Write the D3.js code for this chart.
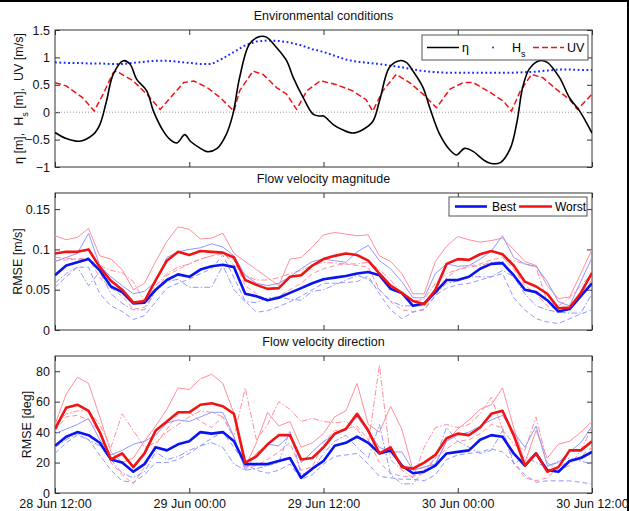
<!DOCTYPE html>
<html>
<head>
<meta charset="utf-8">
<script src="https://cdn.jsdelivr.net/npm/d3@7"></script>
<style>
body { margin: 0; background: #fff; }
text { font-family: "Liberation Sans", Arial, sans-serif; }
</style>
</head>
<body>
<div id="chart"></div>
<script>
// time axis: hours after 28 Jun 12:00
var xTicks = [0, 12, 24, 36, 48];
var xTickLabels = ["28 Jun 12:00", "29 Jun 00:00", "29 Jun 12:00", "30 Jun 00:00", "30 Jun 12:00"];
var hours = d3.range(0, 49);

// ---- environmental conditions ----
var etaHours = [0,1,2.2,3.4,4.0,4.6,5.2,6.1,6.7,7.3,8.2,8.8,9.7,10.3,10.9,11.6,12.1,13.0,13.6,14.5,15.3,15.9,16.5,17.4,18.3,18.9,19.8,20.7,21.3,22.2,23.1,23.7,24.0,24.9,25.7,26.6,27.5,28.4,29.0,29.9,30.8,31.4,32.0,32.9,33.5,34.4,35.3,35.9,36.6,37.4,38.3,38.9,39.8,40.7,41.3,41.8,42.4,43.3,44.0,45.1,46.0,46.9,48];
var eta = [-0.37,-0.48,-0.53,-0.41,-0.23,0.2,0.69,0.94,0.88,0.6,0.39,0.02,-0.35,-0.5,-0.56,-0.41,-0.53,-0.66,-0.72,-0.66,-0.41,-0.04,0.63,1.25,1.38,1.37,1.18,0.94,0.63,0.26,-0.04,-0.07,-0.07,-0.23,-0.32,-0.38,-0.32,-0.17,0.2,0.82,0.94,0.91,0.75,0.45,0.08,-0.41,-0.69,-0.78,-0.66,-0.72,-0.87,-0.93,-0.92,-0.66,-0.17,0.45,0.79,0.94,0.91,0.63,0.26,0.02,-0.38];
var hs = [0.91,0.9,0.9,0.89,0.89,0.88,0.88,0.9,0.92,0.94,0.94,0.92,0.9,0.88,0.88,0.98,1.1,1.22,1.29,1.31,1.3,1.27,1.22,1.15,1.1,1.03,0.96,0.92,0.9,0.88,0.85,0.82,0.78,0.75,0.73,0.72,0.72,0.72,0.72,0.72,0.72,0.72,0.73,0.74,0.76,0.78,0.78,0.77,0.77];
var uvHours = [0,1,2.5,3.5,4.3,5.2,5.5,7.0,8.2,9.4,10.6,11.5,12.4,13.6,14.8,16.0,16.5,17.7,18.6,19.8,20.7,21.6,22.5,23.7,24.0,25.2,26.6,27.8,28.4,29.3,30.5,31.7,32.9,34.1,35.3,36.5,37.4,38.9,40.1,40.8,41.6,42.6,43.6,44.8,46.0,46.7,48];
var uv = [0.54,0.48,0.26,0.02,0.33,0.72,0.75,0.57,0.33,0.05,0.33,0.54,0.57,0.45,0.26,0.02,0.39,0.75,0.69,0.45,0.33,0.05,0.39,0.57,0.56,0.5,0.39,0.23,0.02,0.39,0.69,0.54,0.33,0.08,0.42,0.54,0.54,0.36,0.2,0.02,0.39,0.69,0.63,0.42,0.23,0.05,0.33];

// ---- flow velocity magnitude RMSE [m/s], hourly ----
var magBest = [0.068,0.08,0.084,0.088,0.074,0.054,0.047,0.033,0.034,0.05,0.062,0.069,0.066,0.075,0.079,0.081,0.078,0.045,0.042,0.037,0.04,0.046,0.052,0.058,0.063,0.065,0.067,0.07,0.072,0.068,0.051,0.046,0.03,0.033,0.047,0.062,0.062,0.066,0.076,0.082,0.083,0.068,0.05,0.047,0.037,0.023,0.026,0.042,0.058];
var magWorst = [0.095,0.097,0.097,0.1,0.078,0.061,0.05,0.034,0.036,0.062,0.086,0.097,0.093,0.098,0.097,0.096,0.09,0.062,0.056,0.051,0.052,0.066,0.068,0.08,0.088,0.092,0.095,0.093,0.086,0.07,0.055,0.046,0.036,0.032,0.05,0.082,0.088,0.087,0.094,0.098,0.094,0.08,0.06,0.054,0.045,0.027,0.028,0.046,0.071];
var magRedSolid = [0.117,0.112,0.115,0.126,0.092,0.088,0.075,0.05,0.058,0.085,0.11,0.128,0.125,0.113,0.114,0.12,0.095,0.085,0.075,0.065,0.055,0.088,0.09,0.103,0.118,0.121,0.119,0.117,0.118,0.092,0.085,0.07,0.045,0.045,0.085,0.104,0.116,0.112,0.109,0.111,0.114,0.1,0.085,0.08,0.055,0.039,0.041,0.07,0.1];
var magRedDash = [0.086,0.087,0.088,0.09,0.065,0.052,0.042,0.026,0.028,0.05,0.068,0.075,0.082,0.088,0.092,0.094,0.087,0.055,0.045,0.037,0.042,0.05,0.058,0.07,0.076,0.08,0.082,0.08,0.078,0.05,0.035,0.025,0.023,0.025,0.042,0.065,0.075,0.079,0.082,0.087,0.09,0.075,0.055,0.045,0.03,0.026,0.028,0.045,0.062];
var magRedDashDot = [0.09,0.089,0.088,0.087,0.08,0.074,0.071,0.06,0.035,0.055,0.07,0.078,0.082,0.088,0.092,0.097,0.08,0.068,0.062,0.062,0.065,0.07,0.074,0.08,0.084,0.083,0.082,0.082,0.084,0.075,0.062,0.045,0.036,0.038,0.058,0.07,0.075,0.078,0.08,0.084,0.085,0.086,0.082,0.078,0.035,0.03,0.04,0.055,0.07];
var magBlueSolid = [0.085,0.09,0.095,0.12,0.08,0.066,0.055,0.045,0.048,0.06,0.09,0.097,0.1,0.102,0.107,0.103,0.092,0.068,0.058,0.055,0.058,0.066,0.076,0.085,0.088,0.086,0.084,0.097,0.105,0.086,0.076,0.06,0.04,0.04,0.07,0.082,0.079,0.08,0.088,0.098,0.117,0.09,0.082,0.079,0.06,0.035,0.03,0.06,0.09];
var magBlueDash = [0.053,0.066,0.078,0.078,0.045,0.03,0.023,0.013,0.018,0.035,0.052,0.058,0.063,0.07,0.076,0.093,0.065,0.036,0.022,0.024,0.029,0.035,0.042,0.05,0.058,0.058,0.059,0.06,0.067,0.045,0.025,0.014,0.022,0.026,0.043,0.052,0.056,0.058,0.062,0.066,0.07,0.04,0.025,0.014,0.01,0.008,0.014,0.02,0.025];
var magBlueDashDot = [0.058,0.07,0.078,0.055,0.072,0.045,0.033,0.025,0.025,0.048,0.06,0.063,0.053,0.053,0.053,0.08,0.05,0.035,0.034,0.04,0.041,0.038,0.037,0.048,0.05,0.056,0.062,0.068,0.063,0.05,0.036,0.03,0.03,0.03,0.045,0.058,0.061,0.066,0.066,0.066,0.074,0.066,0.045,0.03,0.025,0.022,0.021,0.021,0.045];

// ---- flow velocity direction RMSE [deg], hourly ----
var dirBest = [31,37,40,38,33,22,20,14,19,30,28,32,34,40,39,40,34,19,19,19,21,23,10,16,21,31,33,37,33,26,28,18,13,14,18,26,27,28,35,38,37,26,18,26,15,14,21,23,27];
var dirWorst = [42,56,58,54,40,22,26,17,26,41,47,53,53,58,59,57,52,20,24,32,38,38,22,23,30,39,42,52,41,26,30,17,16,20,25,36,39,38,43,52,54,38,18,26,14,17,28,28,34];
var dirRedSolid = [45,65,76,72,50,27,20,23,34,44,55,69,68,75,78,72,52,17,33,53,44,47,30,33,39,50,54,72,45,40,57,42,15,17,19,34,42,48,55,58,69,43,20,41,23,32,34,40,47];
var dirRedDash = [41,50,51,48,40,20,12,6,17,32,42,52,53,47,43,50,36,17,18,22,27,33,15,17,33,41,42,44,35,20,13,11,11,13,23,29,34,35,39,45,43,20,10,8,10,17,21,24,30];
var dirRedDashDot = [45,52,54,54,45,30,52,41,30,33,40,45,50,54,53,50,37,69,35,45,60,55,47,49,47,46,47,42,32,84,22,15,10,30,43,45,43,45,52,63,42,32,28,50,20,15,18,28,43];
var dirBlueSolid = [39,42,45,49,35,25,28,32,34,38,46,48,47,50,53,53,37,15,26,32,31,38,20,27,34,38,42,50,40,30,27,27,15,17,19,34,38,40,44,48,51,40,30,44,18,20,27,33,44];
var dirBlueDash = [26,33,38,35,25,15,8,7,12,20,20,22,26,31,36,40,30,19,15,13,15,19,9,12,19,24,25,26,19,11,10,9,9,8,12,22,25,26,27,29,27,20,12,7,8,8,8,7,6];
var dirBlueDashDot = [30,35,39,35,31,22,13,10,14,27,22,24,28,31,33,30,19,15,16,18,20,41,12,15,26,34,38,30,23,45,12,6,6,15,23,43,34,30,26,28,41,19,24,20,17,21,23,21,19];

// colours and line styles
var paleRed = "#ff8f9c", paleBlue = "#9198ff";
var bestColor = "#0a14f0", worstColor = "#f01414";
var dashSolid = null, dashDashed = "5,3", dashDashDot = "6,2,1.5,2";

var W = 629, H = 511;
var left = 55, right = 592, panelH = 137;
var panelTops = [30, 193, 356];

var svg = d3.select("#chart").append("svg")
    .attr("width", W).attr("height", H);

// dark frame at the top and right edge of the screenshot
svg.append("rect").attr("x", 0).attr("y", 0).attr("width", W).attr("height", 2).attr("fill", "#000");
svg.append("rect").attr("x", W - 2).attr("y", 0).attr("width", 2).attr("height", H).attr("fill", "#000");

var x = d3.scaleLinear().domain([0, 48]).range([left, right]);

/**
 * Build one axes box with inside ticks on all four sides.
 */
function addPanel(top, yDomain, yTicks, yFormat, title, showXLabels) {
    var bottom = top + panelH;
    var y = d3.scaleLinear().domain(yDomain).range([bottom, top]);
    var g = svg.append("g");

    var bx = g.append("g")
        .attr("transform", "translate(0," + bottom + ")")
        .call(d3.axisBottom(x).tickValues(xTicks).tickSize(-5).tickPadding(6)
            .tickFormat(function(d, i) { return showXLabels ? xTickLabels[i] : ""; }));
    var tx = g.append("g")
        .attr("transform", "translate(0," + top + ")")
        .call(d3.axisTop(x).tickValues(xTicks).tickSize(-5).tickFormat(""));
    var ly = g.append("g")
        .attr("transform", "translate(" + left + ",0)")
        .call(d3.axisLeft(y).tickValues(yTicks).tickSize(-5).tickPadding(5).tickFormat(yFormat));
    var ry = g.append("g")
        .attr("transform", "translate(" + right + ",0)")
        .call(d3.axisRight(y).tickValues(yTicks).tickSize(-5).tickFormat(""));

    [bx, tx, ly, ry].forEach(function(a) {
        a.select(".domain").remove();
        a.selectAll(".tick line").attr("stroke", "#333");
        a.selectAll("text").attr("font-size", 12.5).attr("fill", "#111")
            .attr("font-family", "Liberation Sans, Arial, sans-serif");
    });

    g.append("rect")
        .attr("x", left).attr("y", top)
        .attr("width", right - left).attr("height", panelH)
        .attr("fill", "none").attr("stroke", "#333").attr("stroke-width", 1);

    g.append("text")
        .attr("x", (left + right) / 2).attr("y", top - 10)
        .attr("text-anchor", "middle").attr("font-size", 12.5).attr("fill", "#111")
        .text(title);

    var clipId = "clip" + top;
    svg.append("clipPath").attr("id", clipId)
        .append("rect").attr("x", left).attr("y", top).attr("width", right - left).attr("height", panelH);
    var plot = svg.append("g").attr("clip-path", "url(#" + clipId + ")");

    return {y: y, plot: plot, top: top, bottom: bottom};
}

function drawLine(panel, xs, ys, color, width, dash, curve) {
    var line = d3.line()
        .x(function(d, i) { return x(xs[i]); })
        .y(function(d) { return panel.y(d); })
        .curve(curve || d3.curveLinear);
    panel.plot.append("path")
        .datum(ys)
        .attr("fill", "none")
        .attr("stroke", color)
        .attr("stroke-width", width)
        .attr("stroke-dasharray", dash)
        .attr("stroke-linejoin", "round")
        .attr("d", line);
}

function yLabel(xPos, top, parts) {
    var t = svg.append("text")
        .attr("transform", "translate(" + xPos + "," + (top + panelH / 2) + ") rotate(-90)")
        .attr("text-anchor", "middle").attr("font-size", 12.5).attr("fill", "#111")
        .style("white-space", "pre");
    parts.forEach(function(p) {
        var s = t.append("tspan").text(p.t);
        if (p.sub) s.attr("baseline-shift", "sub").attr("font-size", 9);
    });
}

// ---- panel 1 ----
var p1 = addPanel(panelTops[0], [-1, 1.5], [-1, -0.5, 0, 0.5, 1, 1.5], d3.format("~g"),
    "Environmental conditions", false);
p1.plot.append("line")
    .attr("x1", left).attr("x2", right).attr("y1", p1.y(0)).attr("y2", p1.y(0))
    .attr("stroke", "#999").attr("stroke-dasharray", "1,2");
drawLine(p1, hours, hs, "#1428ff", 2, "1.8,2.6");
drawLine(p1, uvHours, uv, "#f01414", 1.5, "6,3");
drawLine(p1, etaHours, eta, "#000", 1.6, null, d3.curveCatmullRom.alpha(0.5));
yLabel(23, panelTops[0], [
    {t: "\u03B7 [m],\u00A0\u00A0H"}, {t: "s", sub: true}, {t: " [m],\u00A0\u00A0UV [m/s]"}
]);

// legend 1
var lg1 = svg.append("g").attr("transform", "translate(422,35)");
lg1.append("rect").attr("width", 166).attr("height", 25).attr("fill", "#fff").attr("stroke", "#555");
lg1.append("line").attr("x1", 5).attr("x2", 37).attr("y1", 12.5).attr("y2", 12.5).attr("stroke", "#000").attr("stroke-width", 1.5);
lg1.append("text").attr("x", 40).attr("y", 17).attr("font-size", 12.5).text("\u03B7");
lg1.append("circle").attr("cx", 71).attr("cy", 12.5).attr("r", 1).attr("fill", "#1428ff");
var hsT = lg1.append("text").attr("x", 90).attr("y", 17).attr("font-size", 12.5);
hsT.append("tspan").text("H");
hsT.append("tspan").attr("baseline-shift", "sub").attr("font-size", 9).text("s");
lg1.append("line").attr("x1", 111).attr("x2", 142).attr("y1", 12.5).attr("y2", 12.5).attr("stroke", "#f01414").attr("stroke-width", 1.5).attr("stroke-dasharray", "6,3");
lg1.append("text").attr("x", 145).attr("y", 17).attr("font-size", 12.5).text("UV");

// ---- panel 2 ----
var p2 = addPanel(panelTops[1], [0, 0.17], [0, 0.05, 0.1, 0.15], d3.format("~g"),
    "Flow velocity magnitude", false);
drawLine(p2, hours, magRedSolid, paleRed, 1, dashSolid);
drawLine(p2, hours, magRedDash, paleRed, 1, dashDashed);
drawLine(p2, hours, magRedDashDot, paleRed, 1, dashDashDot);
drawLine(p2, hours, magBlueSolid, paleBlue, 1, dashSolid);
drawLine(p2, hours, magBlueDash, paleBlue, 1, dashDashed);
drawLine(p2, hours, magBlueDashDot, paleBlue, 1, dashDashDot);
drawLine(p2, hours, magBest, bestColor, 2.6, null);
drawLine(p2, hours, magWorst, worstColor, 2.6, null);
yLabel(22, panelTops[1], [{t: "RMSE [m/s]"}]);

var lg2 = svg.append("g").attr("transform", "translate(449,197)");
lg2.append("rect").attr("width", 138).attr("height", 19).attr("fill", "#fff").attr("stroke", "#555");
lg2.append("line").attr("x1", 6).attr("x2", 38).attr("y1", 9.5).attr("y2", 9.5).attr("stroke", bestColor).attr("stroke-width", 2.6);
lg2.append("text").attr("x", 43).attr("y", 14).attr("font-size", 12).text("Best");
lg2.append("line").attr("x1", 70).attr("x2", 103).attr("y1", 9.5).attr("y2", 9.5).attr("stroke", worstColor).attr("stroke-width", 2.6);
lg2.append("text").attr("x", 106).attr("y", 14).attr("font-size", 12).text("Worst");

// ---- panel 3 ----
var p3 = addPanel(panelTops[2], [0, 90], [0, 20, 40, 60, 80], d3.format("d"),
    "Flow velocity direction", true);
drawLine(p3, hours, dirRedSolid, paleRed, 1, dashSolid);
drawLine(p3, hours, dirRedDash, paleRed, 1, dashDashed);
drawLine(p3, hours, dirRedDashDot, paleRed, 1, dashDashDot);
drawLine(p3, hours, dirBlueSolid, paleBlue, 1, dashSolid);
drawLine(p3, hours, dirBlueDash, paleBlue, 1, dashDashed);
drawLine(p3, hours, dirBlueDashDot, paleBlue, 1, dashDashDot);
drawLine(p3, hours, dirBest, bestColor, 2.6, null);
drawLine(p3, hours, dirWorst, worstColor, 2.6, null);
yLabel(31, panelTops[2], [{t: "RMSE [deg]"}]);
</script>
</body>
</html>
